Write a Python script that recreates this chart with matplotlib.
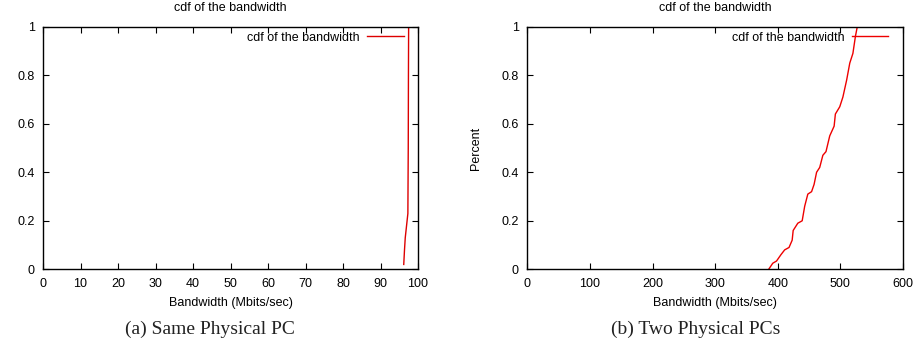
import matplotlib.pyplot as plt

# data
same_bw = [96.2, 96.4, 96.6, 97.3, 97.4, 97.45, 97.5]
same_cdf = [0.02, 0.08, 0.13, 0.23, 0.5, 0.8, 1.0]

two_bw = [385.5, 392, 398, 405, 411, 418, 423, 424.6, 432, 439, 443, 448, 454, 458,
          462, 467, 472, 477, 483, 490, 492, 499, 504, 510, 515, 520, 524, 527]
two_cdf = [0.0, 0.025, 0.034, 0.06, 0.08, 0.09, 0.12, 0.16, 0.19, 0.2, 0.26, 0.31, 0.32, 0.35,
           0.40, 0.42, 0.47, 0.485, 0.55, 0.59, 0.64, 0.67, 0.71, 0.78, 0.85, 0.89, 0.96, 1.0]

y_ticks = [0, 0.2, 0.4, 0.6, 0.8, 1]
y_labels = ['0', '0.2', '0.4', '0.6', '0.8', '1']

plt.rcParams['font.family'] = ['Liberation Sans', 'DejaVu Sans']
plt.rcParams['font.size'] = 9

fig = plt.figure(figsize=(9.18, 3.46), dpi=100)
W, H = 918, 346
ax1 = fig.add_axes([43 / W, 1 - 269.3 / H, 375 / W, 242.6 / H])
ax2 = fig.add_axes([527.3 / W, 1 - 269.3 / H, 375.7 / W, 242.6 / H])


def style(ax, xmax, xstep):
    ax.set_xlim(0, xmax)
    ax.set_ylim(0, 1)
    ax.set_xticks(list(range(0, xmax + 1, xstep)))
    ax.set_yticks(y_ticks)
    ax.set_yticklabels(y_labels)
    ax.tick_params(direction='in', top=True, right=True, length=4, width=0.8,
                   labelsize=9, colors='black', pad=6)
    for s in ax.spines.values():
        s.set_linewidth(1.0)
    ax.set_title('cdf of the bandwidth', fontsize=9, pad=11)
    ax.set_xlabel('Bandwidth (Mbits/sec)', fontsize=9, labelpad=5)
    ax.legend(loc='upper right', bbox_to_anchor=(0.983, 1.013), frameon=False,
              markerfirst=False, handlelength=2.9, fontsize=9, borderaxespad=0.25,
              handletextpad=0.6)


ax1.plot(same_bw, same_cdf, color='#dd0000', lw=1, label='cdf of the bandwidth')
style(ax1, 100, 10)

ax2.plot(two_bw, two_cdf, color='#ee0000', lw=1, label='cdf of the bandwidth')
style(ax2, 600, 100)
ax2.set_ylabel('Percent', fontsize=9, labelpad=14)

fig.text(210 / W, 1 - 329 / H, '(a) Same Physical PC', ha='center', va='center',
         family='Liberation Serif', fontsize=14, color='#222222')
fig.text(695.5 / W, 1 - 329 / H, '(b) Two Physical PCs', ha='center', va='center',
         family='Liberation Serif', fontsize=14, color='#222222')

fig.savefig('out.png', dpi=100)
